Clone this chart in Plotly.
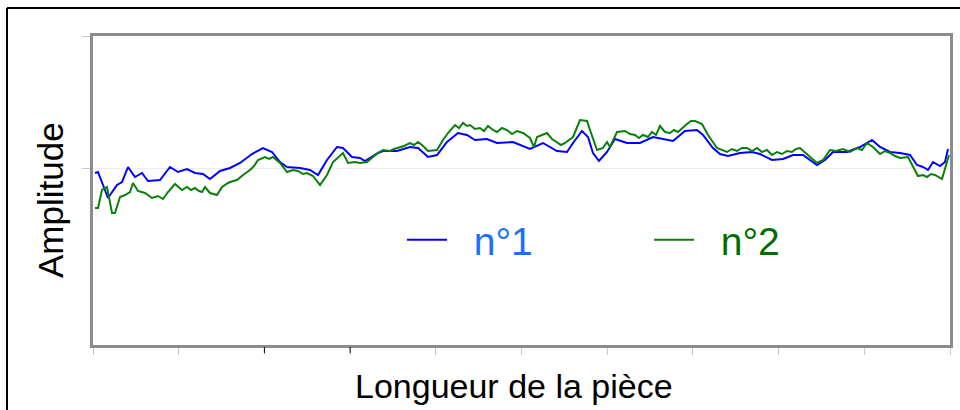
import plotly.graph_objects as go

# Longueur (arbitrary units, 0..857) and amplitude (arbitrary units, 0..309)
x_n1 = [2, 5, 15, 24, 29, 35, 42, 49, 55, 67, 77, 85, 94, 102, 110, 117, 127, 137, 147, 159,
        170, 179, 187, 194, 207, 217, 225, 234, 244, 250, 259, 267, 272, 285, 290, 304, 317, 325,
        335, 344, 354, 365, 374, 382, 394, 404, 420, 437, 450, 464, 474, 480, 489, 495, 500, 506,
        514, 522, 534, 547, 560, 570, 580, 592, 604, 610, 620, 627, 635, 647, 659, 667, 679, 690,
        700, 710, 724, 732, 740, 754, 767, 779, 787, 797, 807, 817, 824, 830, 835, 840, 847, 852, 855]
y_n1 = [172, 173, 147, 160, 163, 178, 168, 172, 164, 165, 178, 173, 176, 172, 171, 166, 174, 177, 182, 191,
        197, 193, 183, 178, 177, 175, 170, 185, 198, 197, 188, 187, 184, 192, 194, 194, 198, 197,
        188, 190, 203, 212, 210, 205, 206, 202, 203, 196, 202, 194, 193, 202, 214, 208, 192, 184,
        193, 206, 202, 202, 208, 206, 204, 214, 215, 210, 197, 191, 189, 192, 193, 191, 185, 186,
        190, 190, 180, 185, 193, 193, 198, 205, 198, 193, 192, 190, 180, 178, 175, 183, 179, 183, 196]

x_n2 = [2, 5, 9, 14, 19, 22, 27, 32, 37, 40, 45, 52, 59, 65, 70, 75, 82, 86, 89, 94, 98, 102, 106, 109,
        112, 117, 124, 129, 135, 140, 144, 150, 157, 161, 165, 172, 176, 180, 187, 194, 200, 205, 210,
        214, 220, 227, 234, 240, 250, 255, 262, 267, 274, 280, 285, 290, 297, 301, 305, 311, 317, 321,
        325, 329, 335, 344, 350, 355, 362, 366, 370, 374, 377, 382, 387, 391, 395, 400, 404, 409, 414,
        419, 424, 430, 437, 441, 444, 449, 454, 459, 464, 468, 472, 476, 480, 487, 494, 497, 504, 510,
        514, 517, 524, 532, 537, 542, 546, 550, 555, 559, 563, 567, 572, 577, 581, 585, 590, 594, 598,
        602, 609, 615, 624, 634, 639, 644, 649, 654, 659, 664, 669, 674, 679, 684, 689, 694, 699, 703,
        707, 714, 724, 730, 737, 743, 750, 757, 764, 769, 774, 780, 787, 792, 797, 802, 807, 815, 820,
        825, 830, 834, 838, 842, 849, 854, 856]
y_n2 = [137, 137, 155, 158, 132, 132, 148, 150, 153, 162, 154, 152, 147, 149, 146, 153, 161, 157, 155, 158, 155, 157, 154, 153,
        158, 152, 150, 158, 162, 164, 165, 170, 175, 179, 185, 188, 186, 188, 182, 173, 175, 174, 171,
        172, 169, 160, 170, 183, 192, 182, 183, 182, 183, 188, 192, 195, 194, 196, 197, 199, 202, 200,
        203, 200, 194, 195, 205, 212, 220, 217, 222, 219, 220, 216, 217, 214, 219, 215, 213, 217, 215,
        211, 214, 212, 207, 198, 208, 210, 212, 206, 203, 200, 202, 205, 208, 225, 224, 215, 195, 197,
        203, 198, 213, 214, 211, 210, 207, 210, 208, 213, 210, 219, 213, 212, 215, 213, 218, 221, 224,
        224, 221, 210, 197, 193, 196, 194, 197, 197, 194, 197, 193, 195, 190, 193, 191, 194, 193, 196,
        197, 191, 182, 185, 195, 194, 196, 193, 197, 195, 202, 198, 191, 194, 192, 189, 187, 188, 178,
        169, 170, 168, 171, 170, 166, 182, 190]

x_range = [0, 857]
y_range = [0, 309]
x_ticks = [0, 85.7, 171.4, 257.1, 342.8, 428.5, 514.2, 599.9, 685.6, 771.3, 857]
y_ticks = [177, 309]
dark_x_ticks = [171.4, 257.1]

FONT = "Liberation Sans, Arial, sans-serif"
GAP = "\u00a0\u00a0"

fig = go.Figure()
fig.add_trace(go.Scatter(x=x_n1, y=y_n1, mode="lines",
                         name=GAP + '<span style="color:#1a6fff">n°1</span>',
                         line=dict(color="#0000ff", width=2)))
fig.add_trace(go.Scatter(x=x_n2, y=y_n2, mode="lines",
                         name=GAP + '<span style="color:#006e00">n°2</span>',
                         line=dict(color="#0a800a", width=2)))

fig.update_layout(
    width=960, height=410,
    margin=dict(l=93, r=10, t=36, b=65, autoexpand=False),
    paper_bgcolor="white", plot_bgcolor="white",
    font=dict(family=FONT, size=34, color="black"),
    showlegend=True,
    legend=dict(orientation="h", x=0.3606, y=0.34, xanchor="left", yanchor="middle",
                bgcolor="rgba(0,0,0,0)", font=dict(size=39, family=FONT),
                entrywidth=192, entrywidthmode="pixels", itemwidth=40),
    xaxis=dict(range=x_range, tickvals=x_ticks, showticklabels=False,
               ticks="outside", ticklen=7, tickcolor="#c8c8c8", tickwidth=1,
               showgrid=False, zeroline=False, automargin=False,
               showline=True, linecolor="#8c8c8c", linewidth=3, mirror=True),
    yaxis=dict(range=y_range, tickvals=y_ticks, showticklabels=False,
               ticks="outside", ticklen=8, tickcolor="#c8c8c8", tickwidth=1,
               showgrid=True, gridcolor="#ececec", gridwidth=1, zeroline=False,
               automargin=False,
               showline=True, linecolor="#8c8c8c", linewidth=3, mirror=True),
    annotations=[
        dict(text="Amplitude", textangle=-90, xref="paper", yref="paper",
             x=-43 / 857, y=145 / 309, xanchor="center", yanchor="middle",
             showarrow=False, font=dict(size=35, family=FONT, color="black")),
        dict(text="Longueur de la pièce", xref="paper", yref="paper",
             x=421 / 857, y=-41 / 309, xanchor="center", yanchor="middle",
             showarrow=False, font=dict(size=34, family=FONT, color="black")),
    ],
)

shapes = []
# outer black frame (top and left edges)
shapes.append(dict(type="line", xref="paper", yref="paper",
                   x0=-86 / 857, x1=1.2, y0=337 / 309, y1=337 / 309,
                   line=dict(color="black", width=2)))
shapes.append(dict(type="line", xref="paper", yref="paper",
                   x0=-86 / 857, x1=-86 / 857, y0=337 / 309, y1=-0.5,
                   line=dict(color="black", width=2)))
for xv in dark_x_ticks:
    shapes.append(dict(type="line", xref="x", yref="paper",
                       x0=xv, x1=xv, y0=-2 / 309, y1=-8 / 309,
                       line=dict(color="black", width=1)))
fig.update_layout(shapes=shapes)

fig.write_html(
    "out.html",
    config={"displayModeBar": False},
    post_script=(
        "document.body.style.margin='0';"
        "document.body.style.overflow='hidden';"
        "document.documentElement.style.overflow='hidden';"
    ),
)
